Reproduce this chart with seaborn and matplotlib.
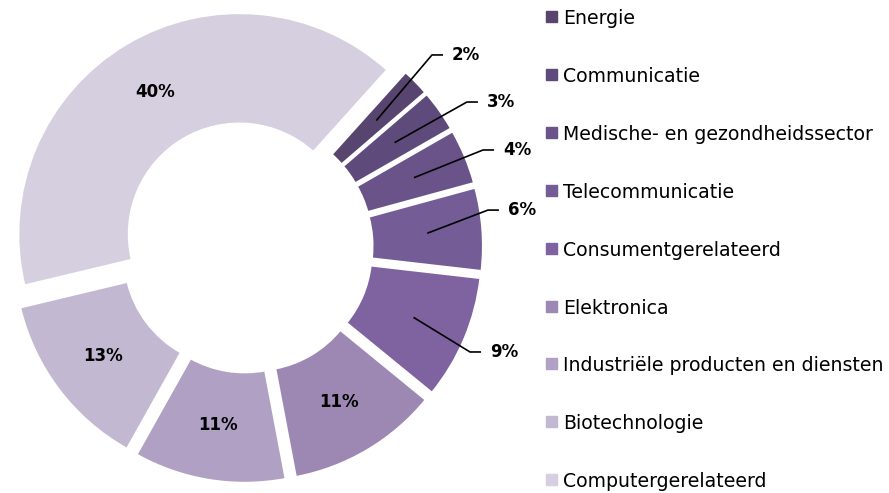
import matplotlib
matplotlib.use("Agg")
import matplotlib.pyplot as plt
from matplotlib.patches import Rectangle
import numpy as np
import seaborn as sns

# sectors in the order they go round the ring (clockwise)
sectors = ["Energie", "Communicatie", "Medische- en gezondheidssector", "Telecommunicatie",
           "Consumentgerelateerd", "Elektronica", "Industriële producten en diensten",
           "Biotechnologie", "Computergerelateerd"]
shares = [2, 3, 4, 6, 9, 11, 11, 13, 40]
colors = ["#58456f", "#5f4b7b", "#6a5389", "#745c96", "#7f63a0",
          "#9c88b3", "#b0a1c4", "#c2b8d1", "#d5cfe0"]

sns.set_style("white")
plt.rcParams["font.family"] = ["DejaVu Sans"]
plt.rcParams["text.color"] = "black"

W, H = 889, 493
fig = plt.figure(figsize=(W / 100, H / 100), dpi=100)

# pie axes: centre at pixel (247, 247), radius 221 px
R, cx, cy, aw = 221, 247, 247, 540
ax = fig.add_axes([0, 0, aw / W, 1])
wedges, _ = ax.pie(shares, colors=colors, startangle=48, counterclock=False,
                   explode=[0.068] * len(shares),
                   wedgeprops=dict(width=0.5, edgecolor="white", linewidth=1.5))
ax.set_xlim(-cx / R, (aw - cx) / R)
ax.set_ylim((cy - H) / R, cy / R)

# small slices get a callout line, the big ones a label inside the ring
callouts = {0: (0.837, 0.869), 1: (0.995, 0.656), 2: (1.068, 0.439),
            3: (1.090, 0.167), 4: (1.009, -0.475)}
pct_font = dict(fontsize=12, fontweight="bold", color="black")
for i, w in enumerate(wedges):
    mid = np.deg2rad((w.theta1 + w.theta2) / 2)
    wx, wy = w.center
    px, py = wx + 0.75 * np.cos(mid), wy + 0.75 * np.sin(mid)
    label = f"{shares[i]}%"
    if i in callouts:
        ex, ey = callouts[i]
        ax.plot([px, ex, ex + 0.05], [py, ey, ey], color="black", lw=1.2,
                solid_capstyle="butt")
        ax.text(ex + 0.09, ey, label, ha="left", va="center", **pct_font)
    else:
        ax.text(px, py, label, ha="center", va="center", **pct_font)

# legend on the right, one row every ~58 px
for i, (name, c) in enumerate(zip(sectors, colors)):
    base = 24 + i * 57.9
    fig.patches.append(Rectangle((546 / W, 1 - (base - 2) / H), 11 / W, 11 / H,
                                 transform=fig.transFigure, color=c))
    fig.text(563 / W, 1 - base / H, name, va="baseline", fontsize=13.6,
             color="black")

fig.savefig("out.png", dpi=100)
